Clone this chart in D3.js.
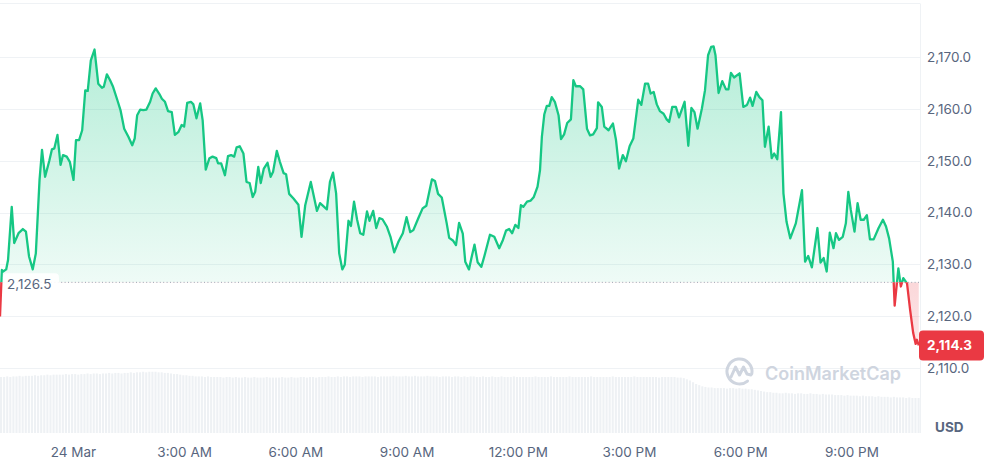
<!DOCTYPE html>
<html><head><meta charset="utf-8">
<script src="https://cdn.jsdelivr.net/npm/d3@7"></script>
<style>
html,body{margin:0;padding:0;background:#fff;}
svg{display:block;font-family:Inter,"Noto Sans",sans-serif;}
</style></head><body>
<svg id="chart" width="993" height="461"></svg>
<script>
// ---------- data ----------
const startTime = new Date(2025, 2, 23, 22, 2);
const spanMinutes = 1489;
const minutesFromStart = [0,3,5,10,13,19,23,30,37,42,47,53,58,64,68,73,80,84,88,93,98,102,108,113,119,123,128,133,138,142,147,153,159,165,168,173,178,183,190,195,201,208,214,218,222,227,232,237,243,247,252,258,262,267,272,278,283,289,294,298,303,309,313,318,324,328,333,339,344,350,353,358,364,369,374,379,383,388,394,399,404,409,413,418,422,427,433,438,442,448,453,459,463,468,475,483,488,494,503,513,518,529,534,539,544,549,554,558,564,568,573,578,583,588,594,598,604,609,614,619,626,632,638,645,652,658,664,669,677,684,690,699,704,709,715,723,727,733,738,743,749,753,759,763,768,773,779,784,793,800,808,814,819,824,829,834,839,843,847,853,859,864,870,874,877,881,885,889,893,898,904,908,913,918,924,928,932,939,944,950,955,960,966,968,974,978,985,992,997,1002,1008,1013,1019,1025,1033,1038,1044,1049,1053,1058,1063,1068,1074,1079,1083,1088,1094,1099,1108,1114,1119,1124,1129,1136,1141,1146,1151,1155,1158,1163,1169,1175,1179,1183,1188,1197,1203,1209,1214,1218,1224,1229,1234,1238,1244,1249,1253,1258,1264,1268,1273,1279,1288,1298,1303,1308,1314,1323,1328,1333,1338,1343,1349,1353,1358,1364,1369,1373,1377,1383,1388,1393,1398,1403,1408,1414,1422,1429,1434,1439,1445,1448,1454,1458,1462,1468,1473,1478,1482,1484,1487];
const prices = [2119.9,2128.9,2128.6,2129.0,2130.8,2141.1,2134.1,2136.0,2136.8,2136.3,2131.5,2129.0,2132.1,2146.3,2152.1,2146.9,2150.1,2152.2,2152.4,2155.0,2149.2,2151.1,2150.8,2149.8,2146.3,2154.0,2154.0,2155.9,2163.6,2163.5,2169.4,2171.5,2164.9,2164.1,2164.3,2166.7,2165.6,2164.3,2161.7,2159.8,2156.2,2154.6,2153.0,2154.3,2158.8,2159.9,2159.8,2159.9,2161.4,2163.0,2164.0,2162.9,2162.0,2161.4,2159.6,2159.4,2155.0,2155.6,2156.9,2156.6,2161.2,2161.4,2160.9,2158.2,2161.1,2157.8,2148.3,2150.5,2150.8,2150.5,2149.5,2149.5,2147.2,2150.9,2151.1,2150.8,2152.6,2152.8,2151.4,2145.9,2145.7,2143.0,2144.0,2148.8,2145.7,2148.5,2149.6,2146.9,2147.9,2151.9,2149.8,2147.6,2147.4,2143.6,2142.7,2141.5,2135.3,2141.4,2145.9,2140.3,2141.8,2140.6,2145.9,2147.7,2143.7,2132.1,2129.0,2129.9,2138.4,2137.4,2142.1,2138.6,2136.0,2135.7,2140.2,2138.4,2140.3,2137.0,2138.9,2138.7,2137.3,2135.3,2132.3,2134.4,2136.0,2139.1,2136.2,2136.6,2138.9,2140.8,2141.3,2146.4,2146.1,2143.6,2142.9,2137.9,2135.1,2134.6,2133.7,2138.0,2135.9,2130.5,2129.0,2131.2,2133.8,2130.4,2129.5,2131.6,2135.7,2135.3,2133.1,2134.7,2136.5,2136.8,2136.0,2137.6,2137.0,2141.4,2141.1,2142.1,2142.3,2143.0,2145.0,2148.2,2154.6,2159.0,2160.6,2160.6,2162.3,2161.4,2158.8,2154.2,2155.1,2157.3,2158.0,2165.6,2164.4,2164.4,2163.8,2156.2,2154.9,2155.1,2156.3,2161.3,2160.4,2156.6,2155.9,2157.2,2154.0,2148.5,2151.1,2149.9,2152.8,2154.3,2161.8,2160.8,2164.9,2164.9,2163.0,2163.3,2160.9,2159.6,2159.1,2158.0,2157.5,2160.4,2160.4,2158.4,2161.4,2152.9,2160.2,2159.4,2156.2,2160.1,2163.6,2170.4,2172.0,2172.1,2170.4,2163.1,2165.4,2163.8,2163.8,2167.0,2166.1,2166.9,2160.4,2160.8,2162.2,2160.6,2163.3,2162.3,2161.7,2152.7,2156.6,2150.5,2151.4,2150.3,2159.4,2143.7,2138.2,2135.0,2137.9,2144.3,2130.5,2131.6,2129.4,2137.0,2130.3,2131.2,2128.6,2136.1,2133.1,2136.0,2134.7,2135.3,2137.9,2144.0,2140.5,2136.3,2141.8,2138.6,2138.6,2139.5,2134.8,2134.8,2137.0,2138.6,2137.3,2135.0,2130.5,2122.0,2129.2,2125.7,2127.3,2126.3,2121.2,2116.7,2114.6,2115.4,2114.3];
// 5-minute volume bars (billions USD)
const volumeStepMinutes = 5;
const volumeBillions = [
9.6,9.6,9.7,9.6,9.7,9.7,9.8,9.7,9.8,9.8, 9.8,9.9,9.8,9.9,9.9,10.0,9.9,10.0,10.0,10.0,
10.0,10.1,10.0,10.1,10.1,10.0,10.1,10.1,10.2,10.1, 10.2,10.2,10.1,10.2,10.2,10.3,10.2,10.3,10.3,10.2,
10.3,10.3,10.4,10.3,10.4,10.4,10.5,10.4,10.5,10.5, 10.5,10.4,10.4,10.3,10.3,10.2,10.1,10.1,10.0,9.9,
9.9,9.8,9.8,9.7,9.7,9.7,9.6,9.7,9.6,9.6, 9.6,9.6,9.5,9.6,9.6,9.5,9.6,9.5,9.5,9.6,
9.5,9.5,9.6,9.5,9.5,9.5,9.6,9.5,9.5,9.5, 9.5,9.6,9.5,9.5,9.6,9.5,9.5,9.6,9.6,9.5,
9.6,9.6,9.5,9.6,9.6,9.6,9.7,9.6,9.6,9.7, 9.6,9.7,9.7,9.6,9.7,9.7,9.7,9.6,9.7,9.7,
9.7,9.7,9.6,9.7,9.7,9.7,9.7,9.8,9.7,9.7, 9.7,9.8,9.7,9.7,9.8,9.7,9.7,9.7,9.8,9.7,
9.7,9.7,9.6,9.7,9.7,9.7,9.6,9.7,9.7,9.6, 9.7,9.6,9.7,9.7,9.6,9.6,9.7,9.6,9.6,9.7,
9.6,9.6,9.7,9.6,9.6,9.6,9.7,9.6,9.6,9.6, 9.6,9.6,9.6,9.7,9.6,9.6,9.6,9.6,9.7,9.6,
9.6,9.6,9.6,9.6,9.7,9.6,9.6,9.6,9.6,9.6, 9.6,9.7,9.6,9.6,9.6,9.6,9.6,9.6,9.7,9.6,
9.6,9.6,9.6,9.6,9.6,9.7,9.6,9.6,9.6,9.6, 9.6,9.6,9.6,9.5,9.6,9.6,9.6,9.6,9.6,9.5,
9.5,9.4,9.2,9.0,8.7,8.4,8.2,8.0,7.9,7.8, 7.8,7.7,7.7,7.7,7.7,7.6,7.7,7.7,7.6,7.7,
7.6,7.6,7.5,7.5,7.4,7.3,7.2,7.1,7.0,7.0, 6.9,6.9,6.8,6.8,6.9,6.8,6.8,6.7,6.8,6.8,
6.7,6.7,6.8,6.7,6.7,6.6,6.7,6.6,6.6,6.6, 6.5,6.5,6.5,6.4,6.5,6.4,6.4,6.4,6.3,6.4,
6.3,6.3,6.3,6.2,6.3,6.2,6.2,6.2,6.1,6.2, 6.1,6.1,6.1,6.0,6.1,6.0,6.0,6.0];
const openPrice = 2126.5;
const lastPrice = 2114.3;
const priceTicks = [2110, 2120, 2130, 2140, 2150, 2160, 2170];
const currencyLabel = "USD";
const watermarkText = "CoinMarketCap";

// ---------- setup ----------
const svg = d3.select("#chart");
const plotW = 920;
const GREEN = "#16c784", RED = "#ea3943", TXT = "#58667e", GRID = "#eff2f5";
const FS = 13.5;

const n = Math.min(minutesFromStart.length, prices.length);
const data = d3.range(n).map(i => ({t: new Date(+startTime + minutesFromStart[i]*60000), v: prices[i]}));
const vols = volumeBillions.map((v, i) => ({t: new Date(+startTime + i*volumeStepMinutes*60000), v}));

const x = d3.scaleTime().domain([startTime, new Date(+startTime + spanMinutes*60000)]).range([0, plotW]);
const y = d3.scaleLinear().domain([2110, 2170]).range([367.7, 57.3]);
const vy = d3.scaleLinear().domain([0, 10.8]).range([433, 370]);
const baseY = y(openPrice);

const defs = svg.append("defs");
const gG = defs.append("linearGradient").attr("id","gGreen").attr("gradientUnits","userSpaceOnUse")
  .attr("x1",0).attr("x2",0).attr("y1",y(2172)).attr("y2",baseY);
gG.append("stop").attr("offset","0").attr("stop-color",GREEN).attr("stop-opacity",0.32);
gG.append("stop").attr("offset","1").attr("stop-color",GREEN).attr("stop-opacity",0.07);
const gR = defs.append("linearGradient").attr("id","gRed").attr("gradientUnits","userSpaceOnUse")
  .attr("x1",0).attr("x2",0).attr("y1",baseY).attr("y2",y(2113));
gR.append("stop").attr("offset","0").attr("stop-color",RED).attr("stop-opacity",0.2);
gR.append("stop").attr("offset","1").attr("stop-color",RED).attr("stop-opacity",0.12);
defs.append("clipPath").attr("id","cAbove").append("rect").attr("x",-5).attr("y",0).attr("width",plotW+5).attr("height",baseY);
defs.append("clipPath").attr("id","cBelow").append("rect").attr("x",-5).attr("y",baseY).attr("width",plotW+5).attr("height",440-baseY);

// volume bars
const barW = x(new Date(+startTime + volumeStepMinutes*60000)) - x(startTime) - 1;
svg.append("g").selectAll("rect").data(vols).join("rect")
  .attr("x", d => x(d.t)).attr("width", barW)
  .attr("y", d => vy(d.v)).attr("height", d => vy(0) - vy(d.v))
  .attr("fill", "#eef1f4");

// frame + grid
svg.append("line").attr("x1",0).attr("x2",plotW).attr("y1",3.5).attr("y2",3.5).attr("stroke",GRID);
svg.append("line").attr("x1",plotW+0.5).attr("x2",plotW+0.5).attr("y1",3.5).attr("y2",433).attr("stroke",GRID);
svg.append("g").selectAll("line").data(priceTicks).join("line")
  .attr("x1",0).attr("x2",plotW).attr("y1",d=>Math.round(y(d))+0.5).attr("y2",d=>Math.round(y(d))+0.5)
  .attr("stroke",GRID);

// areas
const area = d3.area().x(d=>x(d.t)).y0(baseY).y1(d=>y(d.v));
svg.append("path").datum(data).attr("d",area).attr("fill","url(#gGreen)").attr("clip-path","url(#cAbove)");
svg.append("path").datum(data).attr("d",area).attr("fill","url(#gRed)").attr("clip-path","url(#cBelow)");

// baseline
svg.append("line").attr("x1",0).attr("x2",plotW).attr("y1",baseY).attr("y2",baseY)
  .attr("stroke","#9aa3b2").attr("stroke-width",1).attr("stroke-dasharray","1 2.4");

// lines
const line = d3.line().x(d=>x(d.t)).y(d=>y(d.v));
svg.append("path").datum(data).attr("d",line).attr("fill","none").attr("stroke",GREEN)
  .attr("stroke-width",2.3).attr("stroke-linejoin","round").attr("clip-path","url(#cAbove)");
svg.append("path").datum(data).attr("d",line).attr("fill","none").attr("stroke",RED)
  .attr("stroke-width",2.3).attr("stroke-linejoin","round").attr("clip-path","url(#cBelow)");

// open price label
const og = svg.append("g");
og.append("rect").attr("x",3).attr("y",baseY-9).attr("width",56).attr("height",23).attr("rx",4)
  .attr("fill","#fff").attr("fill-opacity",0.9);
og.append("text").attr("x",7).attr("y",baseY+3).attr("dominant-baseline","middle")
  .attr("font-size",FS).attr("fill",TXT).text(d3.format(",.1f")(openPrice));

// y axis labels
const yAxis = d3.axisRight(y).tickValues(priceTicks).tickFormat(d3.format(",.1f")).tickSize(0).tickPadding(0);
const ya = svg.append("g").attr("transform","translate(927,0)").call(yAxis);
ya.select(".domain").remove();
ya.selectAll("text").attr("font-size",FS).attr("fill",TXT).attr("font-family","Inter, sans-serif");

// last price tag
const ly = y(lastPrice);
svg.append("rect").attr("x",919).attr("y",ly-15).attr("width",65).attr("height",30).attr("rx",4).attr("fill",RED);
svg.append("text").attr("x",927).attr("y",ly).attr("dominant-baseline","central")
  .attr("font-size",FS).attr("font-weight",700).attr("fill","#fff").text(d3.format(",.1f")(lastPrice));

// x axis
const fmt = d => d.getHours() === 0 ? d3.timeFormat("%-d %b")(d) : d3.timeFormat("%-I:%M %p")(d);
const xAxis = d3.axisBottom(x).ticks(d3.timeHour.every(3)).tickFormat(fmt).tickSize(0).tickPadding(0);
const xa = svg.append("g").attr("transform","translate(0,447)").call(xAxis);
xa.select(".domain").remove();
xa.selectAll("text").attr("font-size",FS).attr("fill",TXT).attr("font-family","Inter, sans-serif");

// currency
svg.append("text").attr("x",935).attr("y",427).attr("dominant-baseline","central")
  .attr("font-size",FS).attr("font-weight",700).attr("fill",TXT).text(currencyLabel);

// watermark
const wm = svg.append("g").attr("fill","none").attr("stroke","#cfd5df").attr("stroke-width",3).attr("stroke-linecap","round").attr("stroke-linejoin","round");
wm.append("path").attr("d", d3.arc()({innerRadius:12.5, outerRadius:12.5, startAngle:0.35, endAngle:2*Math.PI-0.35}))
  .attr("transform","translate(739.5,371.5) rotate(120)");
wm.append("path").attr("d","M731,377 L735.5,367 L739.5,375 L743.5,367 L747,374 L751,375");
svg.append("text").attr("x",765).attr("y",373).attr("dominant-baseline","central")
  .attr("font-size",18).attr("font-weight",600).attr("fill","#cfd5df").text(watermarkText);
</script>
</body></html>
